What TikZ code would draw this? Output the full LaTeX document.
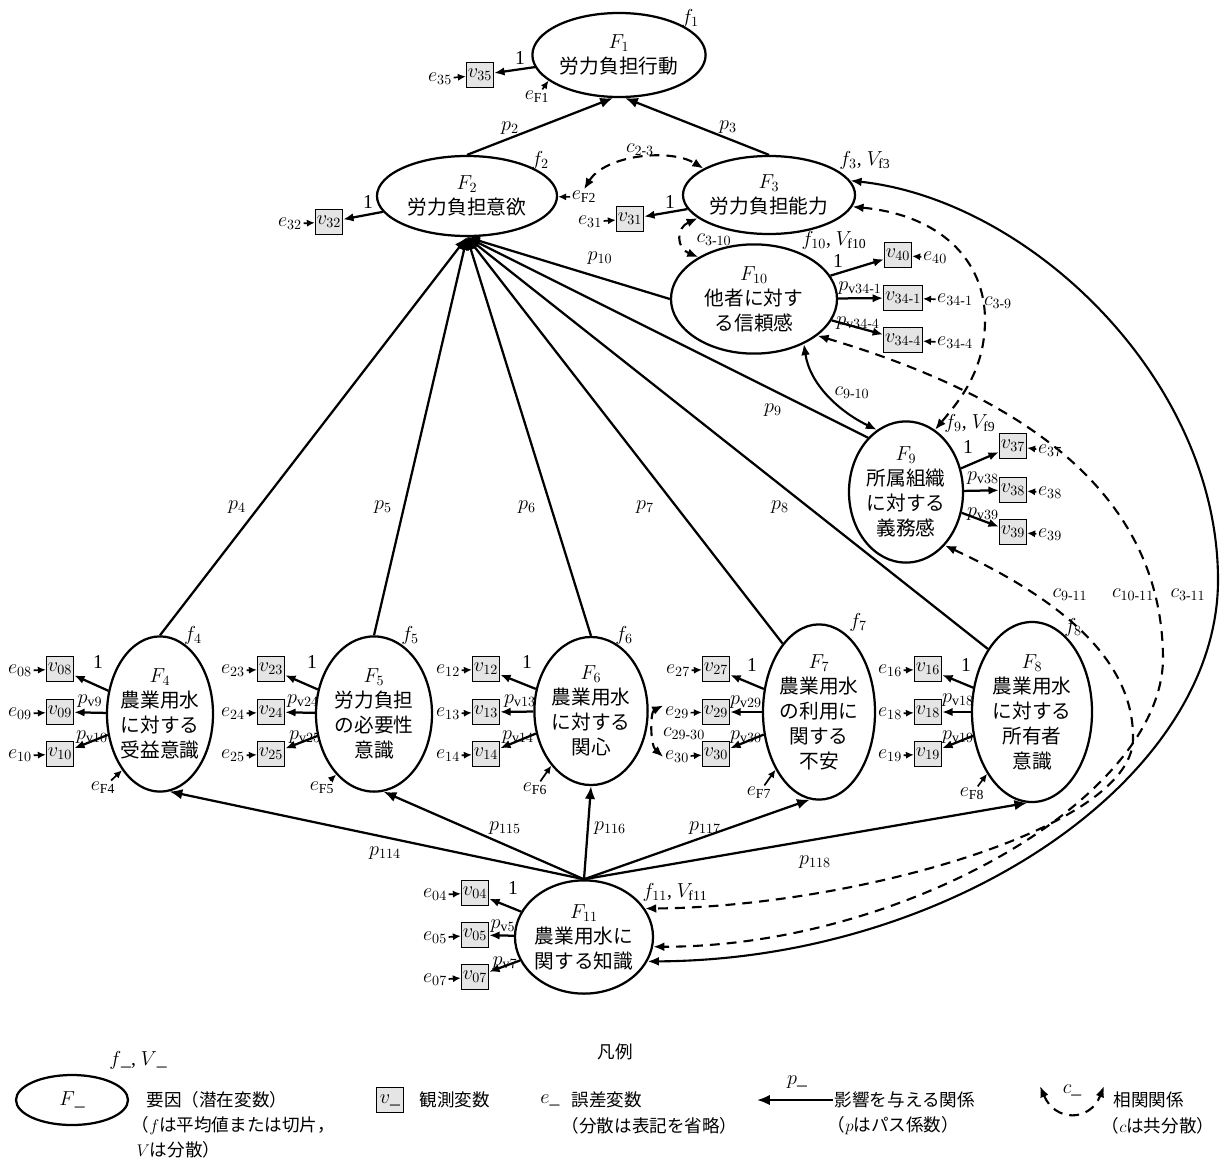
\documentclass[tikz,border=0pt]{standalone}
\usepackage{amsmath}
\usepackage{fontspec}
\setmainfont{Liberation Serif}
\newfontfamily\jpfont{Noto Sans CJK JP}
\usetikzlibrary{shapes.geometric, positioning, arrows.meta}
\newcommand{\dsize}{\fontsize{14}{17.8}\selectfont}
\newcommand{\lsize}{\fontsize{12.5}{15.5}\selectfont}

\begin{document}
\begin{tikzpicture}[
    x=0.025cm, y=-0.025cm,
    factor/.style={draw, ellipse, line width=1.6pt, align=center, inner xsep=-4pt, inner ysep=-2pt, font=\jpfont\dsize},
    obs/.style={draw, fill=gray!20, line width=0.8pt, minimum width=0.66cm, minimum height=0.62cm, inner sep=1pt, font=\dsize},
    lab/.style={inner sep=1pt, font=\dsize},
    legtext/.style={inner sep=1pt, anchor=west, font=\jpfont\lsize},
    mainarr/.style={line width=1.6pt, -{Latex[length=3.2mm, width=2.6mm]}},
    loadarr/.style={line width=1.6pt, -{Latex[length=2.6mm, width=2.1mm]}},
    errarr/.style={line width=1.2pt, -{Latex[length=2mm, width=1.8mm]}},
    covarr/.style={line width=1.5pt, dash pattern=on 7pt off 5pt, {Latex[length=2.8mm, width=2.2mm]}-{Latex[length=2.8mm, width=2.2mm]}},
    solidcov/.style={line width=1.5pt, {Latex[length=2.8mm, width=2.2mm]}-{Latex[length=2.8mm, width=2.2mm]}}
]
    \useasboundingbox (0,0) rectangle (1221,1164);

    % ================= TOP: F1, F2, F3 =================
    \node[factor, minimum width=4.33cm, minimum height=2.1cm] (F1) at (619,55) {$F_{1}$\\労力負担行動};
    \node[lab] (f1) at (690,18) {$f_{1}$};
    \node[obs] (v35) at (480,75) {$v_{35}$};
    \node[lab] (e35) at (440,79) {$e_{35}$};
    \node[lab] (l35) at (520,58) {1};
    \node[lab] (eF1) at (537,97) {$e_{\mathrm{F1}}$};

    \node[factor, minimum width=4.5cm, minimum height=2cm] (F2) at (467,196) {$F_{2}$\\労力負担意欲};
    \node[lab] (f2) at (540,160) {$f_{2}$};
    \node[obs] (v32) at (329,222) {$v_{32}$};
    \node[lab] (e32) at (290,224) {$e_{32}$};
    \node[lab] (l32) at (368,202) {1};
    \node[lab] (eF2) at (584,197) {$e_{\mathrm{F2}}$};

    \node[factor, minimum width=4.3cm, minimum height=1.95cm] (F3) at (769,195) {$F_{3}$\\労力負担能力};
    \node[lab] (f3) at (865,160) {$f_{3}$, $V_{\mathrm{f3}}$};
    \node[obs] (v31) at (630,219) {$v_{31}$};
    \node[lab] (e31) at (590,222) {$e_{31}$};
    \node[lab] (l31) at (670,202) {1};

    \node[lab] (p2) at (510,128) {$p_{2}$};
    \node[lab] (p3) at (728,127) {$p_{3}$};
    \node[lab] (c23) at (640,150) {$c_{2\text{-}3}$};
    \node[lab] (c310) at (714,240) {$c_{3\text{-}10}$};

    \draw[mainarr] (F2.north) -- (F1.-98);
    \draw[mainarr] (F3.north) -- (F1.-82);
    \draw[loadarr] (F1) -- (v35);
    \draw[loadarr] (F2) -- (v32);
    \draw[loadarr] (F3) -- (v31);
    \draw[errarr] (e35) -- (v35);
    \draw[errarr] (e32) -- (v32);
    \draw[errarr] (e31) -- (v31);
    \draw[errarr] (eF1) -- (F1.-160);
    \draw[errarr] (eF2) -- (F2);
    \draw[covarr] (eF2.north) .. controls (605,155) and (670,148) .. (F3.158);

    % ================= F10 and F9 =================
    \node[factor, minimum width=4.15cm, minimum height=2.73cm] (F10) at (754,299) {$F_{10}$\\他者に対す\\る信頼感};
    \node[lab] (f10) at (834,240) {$f_{10}$, $V_{\mathrm{f10}}$};
    \node[obs] (v40) at (898,255) {$v_{40}$};
    \node[lab] (e40) at (935,258) {$e_{40}$};
    \node[lab] (l40) at (838,261) {1};
    \node[obs] (v341) at (903,298) {$v_{34\text{-}1}$};
    \node[lab] (e341) at (955,300) {$e_{34\text{-}1}$};
    \node[lab] (p341) at (860,288) {$p_{\mathrm{v}34\text{-}1}$};
    \node[obs] (v344) at (903,340) {$v_{34\text{-}4}$};
    \node[lab] (e344) at (955,343) {$e_{34\text{-}4}$};
    \node[lab] (p344) at (858,323) {$p_{\mathrm{v}34\text{-}4}$};

    \draw[loadarr] (F10) -- (v40);
    \draw[loadarr] (F10) -- (v341);
    \draw[loadarr] (F10) -- (v344);
    \draw[errarr] (e40) -- (v40);
    \draw[errarr] (e341) -- (v341);
    \draw[errarr] (e344) -- (v344);
    \draw[covarr] (F3.198) .. controls (676,228) and (676,248) .. (F10.143);

    \node[factor, minimum width=2.85cm, minimum height=3.53cm] (F9) at (906,492) {$F_{9}$\\所属組織\\に対する\\義務感};
    \node[lab] (f9) at (970,423) {$f_{9}$, $V_{\mathrm{f9}}$};
    \node[obs] (v37) at (1013,446) {$v_{37}$};
    \node[lab] (e37) at (1050,451) {$e_{37}$};
    \node[lab] (l37) at (968,447) {1};
    \node[obs] (v38) at (1013,490) {$v_{38}$};
    \node[lab] (e38) at (1050,493) {$e_{38}$};
    \node[lab] (p38) at (983,478) {$p_{\mathrm{v}38}$};
    \node[obs] (v39) at (1013,532) {$v_{39}$};
    \node[lab] (e39) at (1050,535) {$e_{39}$};
    \node[lab] (p39) at (983,514) {$p_{\mathrm{v}39}$};

    \draw[loadarr] (F9) -- (v37);
    \draw[loadarr] (F9) -- (v38);
    \draw[loadarr] (F9) -- (v39);
    \draw[errarr] (e37) -- (v37);
    \draw[errarr] (e38) -- (v38);
    \draw[errarr] (e39) -- (v39);

    \node[lab] (p10) at (600,258) {$p_{10}$};
    \node[lab] (p9) at (773,410) {$p_{9}$};
    \node[lab] (c910) at (852,393) {$c_{9\text{-}10}$};
    \node[lab] (c39) at (998,303) {$c_{3\text{-}9}$};

    % ================= LOWER ROW: F4 ... F8 =================
    \node[factor, minimum width=2.65cm, minimum height=3.88cm] (F4) at (160,714) {$F_{4}$\\農業用水\\に対する\\受益意識};
    \node[lab] (f4) at (193,635) {$f_{4}$};
    \node[obs] (v08) at (60,669) {$v_{08}$};
    \node[obs] (v09) at (60,712) {$v_{09}$};
    \node[obs] (v10) at (60,754) {$v_{10}$};
    \node[lab] (e08) at (20,671) {$e_{08}$};
    \node[lab] (e09) at (20,714) {$e_{09}$};
    \node[lab] (e10) at (20,756) {$e_{10}$};
    \node[lab] (l08) at (98,662) {1};
    \node[lab] (p09) at (90,701) {$p_{\mathrm{v}9}$};
    \node[lab] (p10v) at (92,737) {$p_{\mathrm{v}10}$};
    \node[lab] (eF4) at (103,788) {$e_{\mathrm{F4}}$};

    \node[factor, minimum width=2.9cm, minimum height=3.88cm] (F5) at (374,714) {$F_{5}$\\労力負担\\の必要性\\意識};
    \node[lab] (f5) at (410,635) {$f_{5}$};
    \node[obs] (v23) at (271,669) {$v_{23}$};
    \node[obs] (v24) at (271,712) {$v_{24}$};
    \node[obs] (v25) at (271,754) {$v_{25}$};
    \node[lab] (e23) at (233,671) {$e_{23}$};
    \node[lab] (e24) at (233,714) {$e_{24}$};
    \node[lab] (e25) at (233,756) {$e_{25}$};
    \node[lab] (l23) at (312,662) {1};
    \node[lab] (p24) at (303,701) {$p_{\mathrm{v}24}$};
    \node[lab] (p25) at (305,737) {$p_{\mathrm{v}25}$};
    \node[lab] (eF5) at (322,788) {$e_{\mathrm{F5}}$};

    \node[factor, minimum width=2.83cm, minimum height=3.7cm] (F6) at (591,711) {$F_{6}$\\農業用水\\に対する\\関心};
    \node[lab] (f6) at (624,635) {$f_{6}$};
    \node[obs] (v12) at (486,669) {$v_{12}$};
    \node[obs] (v13) at (486,712) {$v_{13}$};
    \node[obs] (v14) at (486,754) {$v_{14}$};
    \node[lab] (e12) at (448,671) {$e_{12}$};
    \node[lab] (e13) at (448,714) {$e_{13}$};
    \node[lab] (e14) at (448,756) {$e_{14}$};
    \node[lab] (l12) at (527,662) {1};
    \node[lab] (p13) at (520,701) {$p_{\mathrm{v}13}$};
    \node[lab] (p14) at (518,737) {$p_{\mathrm{v}14}$};
    \node[lab] (eF6) at (535,789) {$e_{\mathrm{F6}}$};

    \node[factor, minimum width=2.8cm, minimum height=4.38cm] (F7) at (819,712) {$F_{7}$\\農業用水\\の利用に\\関する\\不安};
    \node[lab] (f7) at (858,622) {$f_{7}$};
    \node[obs] (v27) at (716,669) {$v_{27}$};
    \node[obs] (v29) at (716,712) {$v_{29}$};
    \node[obs] (v30) at (716,754) {$v_{30}$};
    \node[lab] (e27) at (678,671) {$e_{27}$};
    \node[lab] (e29) at (677,713) {$e_{29}$};
    \node[lab] (e30) at (677,757) {$e_{30}$};
    \node[lab] (l27) at (752,665) {1};
    \node[lab] (p29) at (746,702) {$p_{\mathrm{v}29}$};
    \node[lab] (p30) at (746,737) {$p_{\mathrm{v}30}$};
    \node[lab] (eF7) at (759,793) {$e_{\mathrm{F7}}$};
    \node[lab] (c2930) at (684,734) {$c_{29\text{-}30}$};

    \node[factor, minimum width=3cm, minimum height=4.5cm] (F8) at (1032,712) {$F_{8}$\\農業用水\\に対する\\所有者\\意識};
    \node[lab] (f8) at (1073,627) {$f_{8}$};
    \node[obs] (v16) at (928,669) {$v_{16}$};
    \node[obs] (v18) at (928,712) {$v_{18}$};
    \node[obs] (v19) at (928,754) {$v_{19}$};
    \node[lab] (e16) at (890,671) {$e_{16}$};
    \node[lab] (e18) at (890,714) {$e_{18}$};
    \node[lab] (e19) at (890,756) {$e_{19}$};
    \node[lab] (l16) at (966,665) {1};
    \node[lab] (p18) at (958,700) {$p_{\mathrm{v}18}$};
    \node[lab] (p19) at (958,737) {$p_{\mathrm{v}19}$};
    \node[lab] (eF8) at (972,794) {$e_{\mathrm{F8}}$};

    \foreach \f/\a/\b/\c in {F4/v08/v09/v10, F5/v23/v24/v25, F6/v12/v13/v14, F7/v27/v29/v30, F8/v16/v18/v19} {
        \draw[loadarr] (\f) -- (\a);
        \draw[loadarr] (\f) -- (\b);
        \draw[loadarr] (\f) -- (\c);
    }
    \foreach \e/\v in {e08/v08, e09/v09, e10/v10, e23/v23, e24/v24, e25/v25, e12/v12, e13/v13, e14/v14,
                       e27/v27, e29/v29, e30/v30, e16/v16, e18/v18, e19/v19}
        \draw[errarr] (\e) -- (\v);
    \draw[errarr] (eF4) -- (F4.-124);
    \draw[errarr] (eF5) -- (F5.-122);
    \draw[errarr] (eF6) -- (F6.-126);
    \draw[errarr] (eF7) -- (F7.-127);
    \draw[errarr] (eF8) -- (F8.-126);
    \draw[covarr] (e29.north west) .. controls (650,712) and (650,745) .. (e30.west);

    % paths into F2
    \node[lab] (p4) at (237,507) {$p_{4}$};
    \node[lab] (p5) at (383,507) {$p_{5}$};
    \node[lab] (p6) at (527,507) {$p_{6}$};
    \node[lab] (p7) at (645,507) {$p_{7}$};
    \node[lab] (p8) at (780,507) {$p_{8}$};
    \draw[mainarr] (F4.north) -- (F2.south);
    \draw[mainarr] (F5.north) -- (F2.south);
    \draw[mainarr] (F6.north) -- (F2.south);
    \draw[mainarr] (F7.118) -- (F2.south);
    \draw[mainarr] (F8.125) -- (F2.south);
    \draw[mainarr] (F9.125) -- (F2.south);
    \draw[mainarr] (F10.west) -- (F2.south);

    % ================= F11 =================
    \node[factor, minimum width=3.45cm, minimum height=2.83cm] (F11) at (584,937) {$F_{11}$\\農業用水に\\関する知識};
    \node[lab] (f11) at (675,892) {$f_{11}$, $V_{\mathrm{f11}}$};
    \node[obs] (v04) at (475,893) {$v_{04}$};
    \node[obs] (v05) at (475,935) {$v_{05}$};
    \node[obs] (v07) at (475,977) {$v_{07}$};
    \node[lab] (e04) at (435,895) {$e_{04}$};
    \node[lab] (e05) at (435,938) {$e_{05}$};
    \node[lab] (e07) at (435,980) {$e_{07}$};
    \node[lab] (l04) at (513,888) {1};
    \node[lab] (p05) at (503,926) {$p_{\mathrm{v}5}$};
    \node[lab] (p07) at (505,963) {$p_{\mathrm{v}7}$};
    \draw[loadarr] (F11) -- (v04);
    \draw[loadarr] (F11) -- (v05);
    \draw[loadarr] (F11) -- (v07);
    \draw[errarr] (e04) -- (v04);
    \draw[errarr] (e05) -- (v05);
    \draw[errarr] (e07) -- (v07);

    \node[lab] (p114) at (385,853) {$p_{114}$};
    \node[lab] (p115) at (505,828) {$p_{115}$};
    \node[lab] (p116) at (610,828) {$p_{116}$};
    \node[lab] (p117) at (705,828) {$p_{117}$};
    \node[lab] (p118) at (815,862) {$p_{118}$};
    \draw[mainarr] (F11.north) -- (F4.-83);
    \draw[mainarr] (F11.north) -- (F5.-83);
    \draw[mainarr] (F11.north) -- (F6.south);
    \draw[mainarr] (F11.north) -- (F7.-96);
    \draw[mainarr] (F11.north) -- (F8.-93);

    % covariances on the right
    \node[lab] (c911) at (1070,595) {$c_{9\text{-}11}$};
    \node[lab] (c1011) at (1133,595) {$c_{10\text{-}11}$};
    \node[lab] (c311) at (1188,595) {$c_{3\text{-}11}$};
    \draw[solidcov] (F10.-42) .. controls (810,385) and (840,412) .. (F9.115);
    \draw[covarr] (F3.-8) .. controls (940,215) and (985,260) .. (985,320)
                  .. controls (985,370) and (960,400) .. (F9.65);
    \draw[covarr] (F10.-30) .. controls (1000,390) and (1163,480) .. (1163,660)
                  .. controls (1160,800) and (900,947) .. (F11.-8);
    \draw[covarr] (F9.-54) .. controls (1040,590) and (1135,650) .. (1133,740)
                  .. controls (1130,830) and (850,907) .. (F11.25);
    \draw[solidcov] (F11.-21) .. controls (950,960) and (1218,780) .. (1218,580)
                    .. controls (1218,380) and (1030,200) .. (F3.10);

    % ================= LEGEND =================
    \node[font=\jpfont\lsize] (lgtitle) at (615,1052) {凡例};
    \node[draw, ellipse, line width=1.6pt, minimum width=2.8cm, minimum height=1.25cm, font=\dsize] (lgF) at (72,1100) {$F$\_};
    \node[lab] (lgf) at (138,1060) {$f$\_, $V$\_};
    \node[legtext] (lgF1) at (145,1100) {要因（潜在変数）};
    \node[legtext] (lgF2) at (130,1126) {（$f$は平均値または切片，};
    \node[legtext] (lgF3) at (135,1150) {$V$は分散）};
    \node[obs] (lgv) at (390,1100) {$v$\_};
    \node[legtext] (lgv1) at (418,1100) {観測変数};
    \node[lab] (lge) at (550,1100) {$e$\_};
    \node[legtext] (lge1) at (570,1100) {誤差変数};
    \node[legtext] (lge2) at (560,1126) {（分散は表記を省略）};
    \node[legtext] (lgp1) at (833,1100) {影響を与える関係};
    \node[legtext] (lgp2) at (826,1126) {（$p$はパス係数）};
    \node[lab] (lgp) at (797,1082) {$p$\_};
    \coordinate (lgarr) at (757,1100);
    \draw[mainarr] (lgp1.west) -- (lgarr);
    \node[legtext] (lgc1) at (1112,1100) {相関関係};
    \node[legtext] (lgc2) at (1100,1126) {（$c$は共分散）};
    \node[lab] (lgc) at (1072,1090) {$c$\_};
    \coordinate (lgc0) at (1040,1086);
    \coordinate (lgc9) at (1104,1086);
    \draw[covarr] (lgc0) .. controls (1055,1122) and (1090,1122) .. (lgc9);
\end{tikzpicture}
\end{document}
